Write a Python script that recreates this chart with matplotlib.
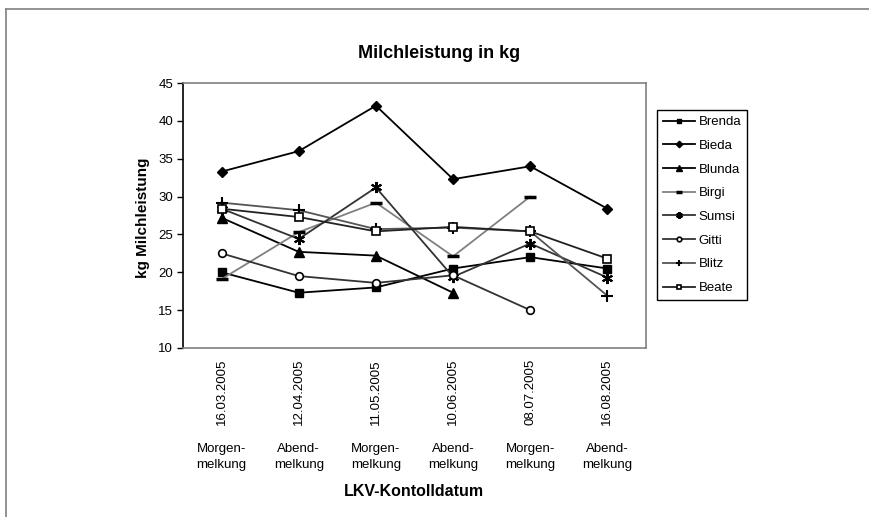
import numpy as np
import matplotlib
matplotlib.use("Agg")
import matplotlib.pyplot as plt
from matplotlib.lines import Line2D

plt.rcParams['font.family'] = ['Liberation Sans', 'DejaVu Sans']

dates = ["16.03.2005", "12.04.2005", "11.05.2005", "10.06.2005", "08.07.2005", "16.08.2005"]
kinds = ["Morgen-\nmelkung", "Abend-\nmelkung", "Morgen-\nmelkung", "Abend-\nmelkung", "Morgen-\nmelkung", "Abend-\nmelkung"]

nan = np.nan
brenda = [20.0, 17.3, 18.0, 20.5, 22.0, 20.5]
bieda = [33.3, 36.0, 42.0, 32.3, 34.0, 28.4]
blunda = [27.2, 22.7, 22.2, 17.3, nan, nan]
birgi = [19.1, 25.3, 29.2, 22.1, 30.0, nan]
sumsi = [28.4, 24.4, 31.2, 19.4, 23.8, 19.3]
gitti = [22.5, 19.5, 18.6, 19.6, 15.0, nan]
blitz = [29.2, 28.2, 25.7, 25.9, 25.4, 16.9]
beate = [28.4, 27.3, 25.4, 26.0, 25.4, 21.8]

series = [
    ("Brenda", brenda, dict(color="#000000", marker="s", ms=6, mfc="#000000")),
    ("Bieda", bieda, dict(color="#000000", marker="D", ms=5.5, mfc="#000000")),
    ("Blunda", blunda, dict(color="#000000", marker="^", ms=6.5, mfc="#000000")),
    ("Birgi", birgi, dict(color="#808080", marker="_", ms=8, mew=2.5, mec="#000000")),
    ("Sumsi", sumsi, dict(color="#333333", marker=(6, 2, 0), ms=8, mew=1.5, mec="#000000")),
    ("Gitti", gitti, dict(color="#333333", marker="o", ms=5.5, mfc="white", mec="#000000", mew=1.2)),
    ("Blitz", blitz, dict(color="#555555", marker="+", ms=8, mew=1.5, mec="#000000")),
    ("Beate", beate, dict(color="#222222", marker="s", ms=5.5, mfc="white", mec="#000000", mew=1.2)),
]

fig = plt.figure(figsize=(8.7, 5.17), dpi=100)
ax = fig.add_axes([183/870, 1-348/517, (646-183)/870, (348-83)/517])

x = np.arange(len(dates))
for name, vals, st in series:
    ax.plot(x, vals, lw=1.3, label=name, clip_on=False, **st)

ax.set_xlim(-0.5, len(dates)-0.5)
ax.set_ylim(10, 45)
ax.set_yticks(np.arange(10, 46, 5))
ax.tick_params(axis='y', direction='out', length=4, width=1, labelsize=9.5, pad=3)
ax.set_xticks(x)
ax.set_xticklabels(dates, rotation=90, fontsize=9.5)
ax.tick_params(axis='x', length=0, pad=8)
for t in ax.get_xticklabels():
    t.set_verticalalignment('top')

for i, k in enumerate(kinds):
    ax.text(i, -0.41, k, transform=ax.get_xaxis_transform(), ha='center', va='center',
            fontsize=9.5, linespacing=1.45)

for s in ['top', 'right', 'bottom']:
    ax.spines[s].set_color('#808080')
    ax.spines[s].set_linewidth(1.2)
ax.spines['left'].set_color('black')
ax.spines['left'].set_linewidth(1.2)

fig.text(439/870, 1-53/517, "Milchleistung in kg", ha='center', va='center',
         fontsize=13, fontweight='bold')
fig.text(143/870, 1-218/517, "kg Milchleistung", ha='center', va='center',
         rotation=90, fontsize=11, fontweight='bold')
fig.text(414/870, 1-492/517, "LKV-Kontolldatum", ha='center', va='center',
         fontsize=11.5, fontweight='bold')

leg = fig.legend(loc='upper left', bbox_to_anchor=(657/870, 1-110/517),
                 bbox_transform=fig.transFigure, borderaxespad=0, fontsize=9.5,
                 frameon=True, fancybox=False, edgecolor='black', framealpha=1,
                 handlelength=2.4, handletextpad=0.3, labelspacing=0.87,
                 markerscale=0.6, borderpad=0.45)
leg.get_frame().set_linewidth(1.0)

# outer chart border (top and left)
fig.add_artist(Line2D([6/870, 1], [1-9/517, 1-9/517], transform=fig.transFigure,
                      color='#808080', lw=1.2))
fig.add_artist(Line2D([6/870, 6/870], [0, 1-9/517], transform=fig.transFigure,
                      color='#808080', lw=1.2))

fig.savefig("out.png", dpi=100)
